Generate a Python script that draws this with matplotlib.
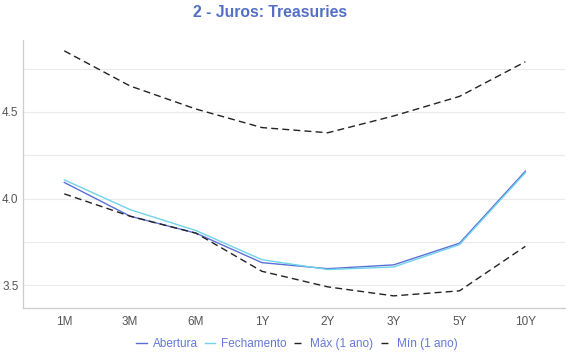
import matplotlib
matplotlib.use("Agg")
from matplotlib import pyplot as plt
from matplotlib.ticker import MultipleLocator

prazos = ["1M", "3M", "6M", "1Y", "2Y", "3Y", "5Y", "10Y"]
abertura = [4.093, 3.898, 3.800, 3.630, 3.595, 3.617, 3.742, 4.158]
fechamento = [4.108, 3.936, 3.815, 3.647, 3.590, 3.605, 3.734, 4.149]
maximo = [4.853, 4.650, 4.517, 4.410, 4.380, 4.477, 4.590, 4.790]
minimo = [4.027, 3.898, 3.800, 3.580, 3.490, 3.438, 3.467, 3.724]

plt.rcParams["font.family"] = ["Liberation Sans", "DejaVu Sans"]

fig = plt.figure(figsize=(5.7, 3.6), dpi=100)
ax = fig.add_axes([0.04, 0.144, 0.951, 0.745])
x = range(len(prazos))

ax.plot(x, abertura, color="#5b6fd6", lw=1.0, label="Abertura")
ax.plot(x, fechamento, color="#6fd3ea", lw=1.0, label="Fechamento")
ax.plot(x, maximo, color="#222222", lw=1.0, ls=(0, (5, 3)), label="Máx (1 ano)")
ax.plot(x, minimo, color="#222222", lw=1.0, ls=(0, (5, 3)), label="Mín (1 ano)")

ax.set_xlim(-0.63, 7.6)
ax.set_ylim(3.367, 4.916)
ax.set_xticks(list(x))
ax.set_xticklabels(prazos)
ax.yaxis.set_major_locator(MultipleLocator(0.5))
ax.yaxis.set_minor_locator(MultipleLocator(0.25))
ax.yaxis.set_major_formatter(lambda v, p: f"{v:.1f}")
ax.grid(axis="y", which="both", color="#ebebeb", lw=0.8)
ax.set_axisbelow(True)
ax.tick_params(which="both", length=0, labelsize=8.5, colors="#555555", pad=6)
ax.tick_params(axis="y", pad=3)
for s in ["top", "right"]:
    ax.spines[s].set_visible(False)
for s in ["left", "bottom"]:
    ax.spines[s].set_color("#cccccc")
    ax.spines[s].set_linewidth(0.9)

fig.text(0.474, 0.965, "2 - Juros: Treasuries", ha="center", va="center",
         fontsize=11.3, fontweight="bold", color="#5470c6")
leg = fig.legend(loc="center", bbox_to_anchor=(0.521, 0.045), ncol=4, frameon=False,
                 fontsize=8.5, handlelength=0.9, handletextpad=0.5, columnspacing=0.6)
for t in leg.get_texts():
    t.set_color("#6579d8")

fig.savefig("out.png", dpi=100)
